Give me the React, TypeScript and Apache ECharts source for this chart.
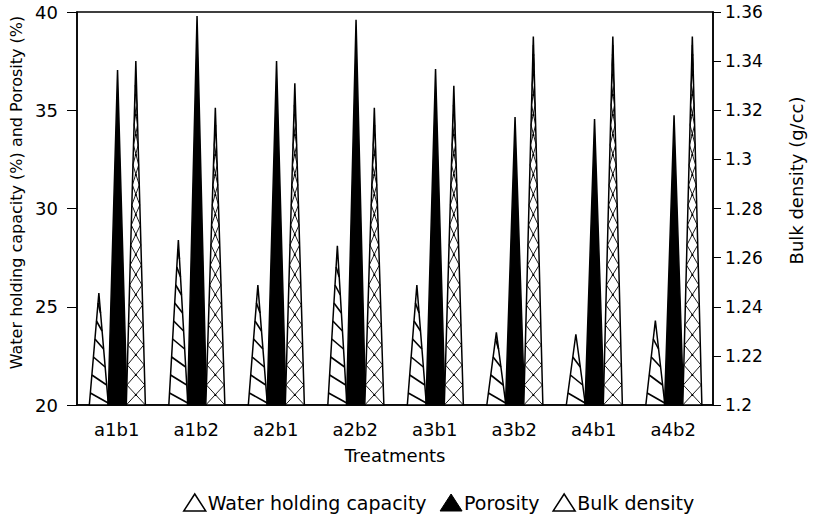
import React, { useEffect, useRef } from 'react';
import * as echarts from 'echarts';

const categories = ['a1b1', 'a1b2', 'a2b1', 'a2b2', 'a3b1', 'a3b2', 'a4b1', 'a4b2'];
const waterHolding = [25.7, 28.4, 26.1, 28.1, 26.1, 23.7, 23.6, 24.3];
const porosity = [37.05, 39.8, 37.5, 39.6, 37.1, 34.65, 34.55, 34.75];
const bulkDensity = [1.34, 1.321, 1.331, 1.321, 1.33, 1.35, 1.35, 1.35];

const leftMin = 20;
const leftMax = 40;
const leftInterval = 5;
const rightMin = 1.2;
const rightMax = 1.36;
const rightInterval = 0.02;

const FONT = '"DejaVu Sans", "Liberation Sans", Arial, sans-serif';

type Kind = 'hatch' | 'solid' | 'cross';

function makeRender(kind: Kind, offsetFrac: number, yMin: number) {
  return (params: any, api: any) => {
    const idx = api.value(0);
    const val = api.value(1);
    const band = api.size([1, 0])[0];
    const c = api.coord([idx, val]);
    const b = api.coord([idx, yMin]);
    const cx = c[0] + offsetFrac * band;
    const yt = c[1];
    const yb = b[1];
    const hw = band * 0.12;
    const h = yb - yt;
    const left = (y: number) => cx - (hw * (y - yt)) / h;
    const right = (y: number) => cx + (hw * (y - yt)) / h;
    const children: any[] = [];
    children.push({
      type: 'polygon',
      shape: { points: [[cx - hw, yb], [cx, yt], [cx + hw, yb]] },
      style: { fill: kind === 'solid' ? '#000' : '#fff', stroke: '#000', lineWidth: 1.5 },
    });
    if (kind === 'hatch') {
      const step = 18;
      const k = 10;
      for (let y2 = yb - 2; ; y2 -= step) {
        const y1 = y2 - k;
        if (y1 < yt + 6) break;
        children.push({
          type: 'line',
          shape: { x1: left(y1), y1, x2: right(y2), y2 },
          style: { stroke: '#000', lineWidth: 1.6 },
        });
      }
    } else if (kind === 'cross') {
      const step = 20;
      for (let y2 = yb; ; y2 -= step) {
        const y1 = y2 - step;
        if (y1 < yt + 4) break;
        children.push({
          type: 'line',
          shape: { x1: left(y1), y1, x2: right(y2), y2 },
          style: { stroke: '#000', lineWidth: 0.9 },
        });
        children.push({
          type: 'line',
          shape: { x1: right(y1), y1, x2: left(y2), y2 },
          style: { stroke: '#000', lineWidth: 0.9 },
        });
        children.push({
          type: 'circle',
          shape: { cx, cy: (y1 + y2) / 2, r: 1.1 },
          style: { fill: '#000' },
        });
      }
    }
    return { type: 'group', children };
  };
}

export default function App() {
  const ref = useRef<HTMLDivElement>(null);
  useEffect(() => {
    if (!ref.current) return;
    const chart = echarts.init(ref.current, undefined, { renderer: 'svg' });
    const axisText = { color: '#000', fontFamily: FONT, fontSize: 18 };
    chart.setOption({
      animation: false,
      backgroundColor: '#fff',
      grid: {
        left: 77,
        right: 90,
        top: 12,
        bottom: 115,
        show: true,
        borderColor: '#000',
        borderWidth: 1.5,
      },
      legend: {
        left: 178,
        top: 488,
        itemWidth: 22,
        itemHeight: 17,
        itemGap: 13,
        textStyle: { color: '#000', fontFamily: FONT, fontSize: 19, padding: [0, 0, 0, -3] },
        data: [
          { name: 'Water holding capacity', icon: 'triangle', itemStyle: { color: '#fff', borderColor: '#000', borderWidth: 1.5 } },
          { name: 'Porosity', icon: 'triangle', itemStyle: { color: '#000', borderColor: '#000', borderWidth: 1 } },
          { name: 'Bulk density', icon: 'triangle', itemStyle: { color: '#fff', borderColor: '#000', borderWidth: 1.5 } },
        ],
      },
      xAxis: {
        type: 'category',
        data: categories,
        boundaryGap: true,
        name: 'Treatments',
        nameLocation: 'middle',
        nameGap: 41,
        nameTextStyle: axisText,
        axisLine: { lineStyle: { color: '#000', width: 1.5 } },
        axisTick: { alignWithLabel: true, length: 5, lineStyle: { color: '#000' } },
        axisLabel: { ...axisText, margin: 15 },
        splitLine: { show: false },
      },
      yAxis: [
        {
          type: 'value',
          min: leftMin,
          max: leftMax,
          interval: leftInterval,
          name: 'Water holding capacity (%) and Porosity (%)',
          nameLocation: 'middle',
          nameGap: 51,
          nameTextStyle: { ...axisText, fontSize: 16, padding: [0, 0, 0, 32] },
          axisLine: { show: true, lineStyle: { color: '#000', width: 1.5 } },
          axisTick: { show: true, length: 10, lineStyle: { color: '#000' } },
          axisLabel: { ...axisText, margin: 19 },
          splitLine: { show: false },
        },
        {
          type: 'value',
          min: rightMin,
          max: rightMax,
          interval: rightInterval,
          position: 'right',
          name: 'Bulk density (g/cc)',
          nameLocation: 'middle',
          nameGap: 74,
          nameTextStyle: { ...axisText, padding: [0, 0, 0, 56] },
          axisLine: { show: true, lineStyle: { color: '#000', width: 1.5 } },
          axisTick: { show: true, length: 8, lineStyle: { color: '#000' } },
          axisLabel: { ...axisText, fontSize: 17, margin: 12, formatter: (v: number) => String(+v.toFixed(2)) },
          splitLine: { show: false },
        },
      ],
      series: [
        {
          name: 'Water holding capacity',
          type: 'custom',
          yAxisIndex: 0,
          itemStyle: { color: '#fff', borderColor: '#000' },
          renderItem: makeRender('hatch', -0.225, leftMin),
          encode: { x: 0, y: 1 },
          data: waterHolding.map((v, i) => [i, v]),
        },
        {
          name: 'Porosity',
          type: 'custom',
          yAxisIndex: 0,
          itemStyle: { color: '#000' },
          renderItem: makeRender('solid', 0.01, leftMin),
          encode: { x: 0, y: 1 },
          data: porosity.map((v, i) => [i, v]),
        },
        {
          name: 'Bulk density',
          type: 'custom',
          yAxisIndex: 1,
          itemStyle: { color: '#fff', borderColor: '#000' },
          renderItem: makeRender('cross', 0.24, rightMin),
          encode: { x: 0, y: 1 },
          data: bulkDensity.map((v, i) => [i, v]),
        },
      ],
    });
    return () => chart.dispose();
  }, []);
  return <div ref={ref} style={{ width: 813, height: 520, position: 'absolute', left: 0, top: 0 }} />;
}
